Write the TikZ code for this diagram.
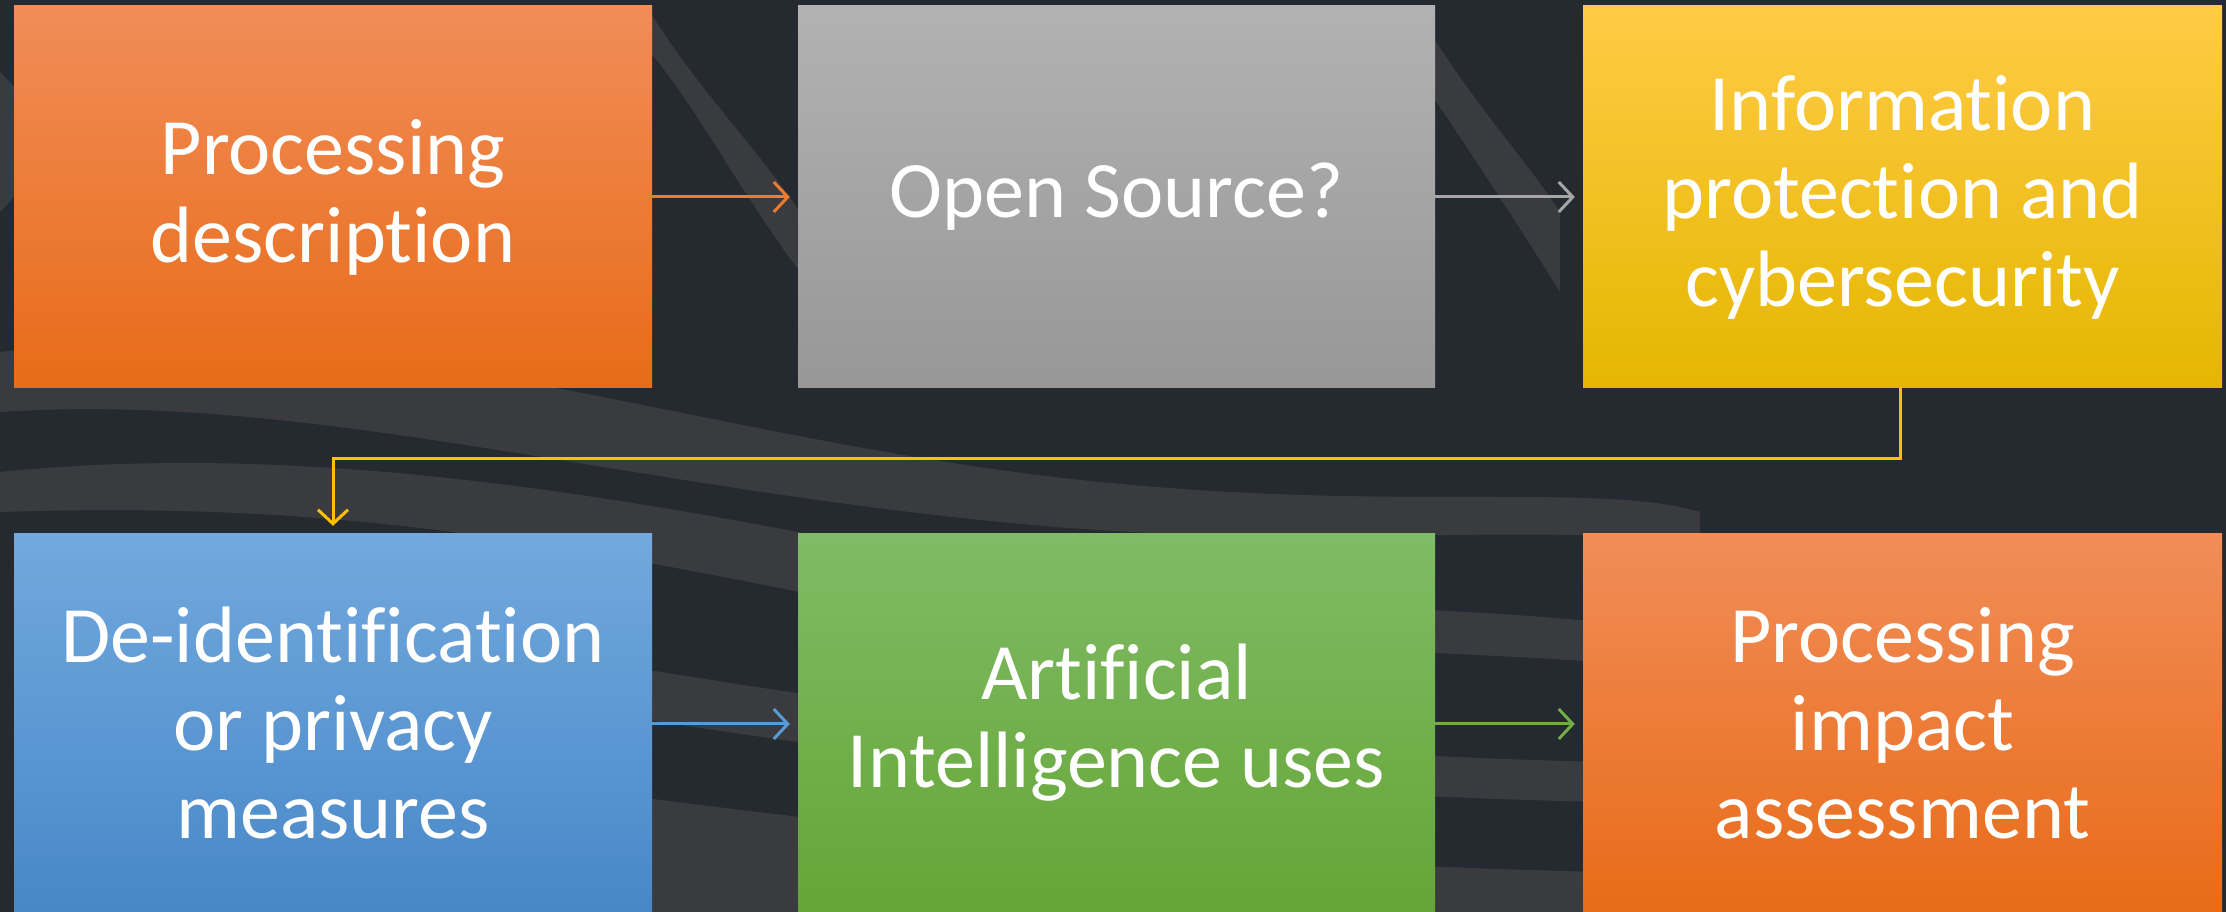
\documentclass[tikz,border=0pt]{standalone}
\usepackage{fontspec}
\setmainfont[Ligatures=NoCommon]{Carlito}
\usetikzlibrary{arrows.meta}
\definecolor{bgdark}{HTML}{252A31}
\definecolor{bgband}{HTML}{4A4A4A}
\definecolor{orT}{HTML}{F18D58}
\definecolor{orB}{HTML}{E86B18}
\definecolor{grT}{HTML}{B2B2B2}
\definecolor{grB}{HTML}{979797}
\definecolor{yeT}{HTML}{FFCB45}
\definecolor{yeB}{HTML}{E5B600}
\definecolor{blT}{HTML}{72A9DE}
\definecolor{blB}{HTML}{4787C8}
\definecolor{gnT}{HTML}{80BB65}
\definecolor{gnB}{HTML}{65A536}
\definecolor{arOr}{HTML}{F07A2C}
\definecolor{arGr}{HTML}{A6A6A6}
\definecolor{arYe}{HTML}{FFC000}
\definecolor{arBl}{HTML}{5B9BD5}
\definecolor{arGn}{HTML}{70AD47}
\tikzset{
  box/.style={minimum height=382pt, inner sep=0pt, align=center, text=white,
    font=\fontsize{80}{88}\selectfont, shading=axis, shading angle=0},
  boxlow/.style={box, minimum height=378pt},
  arr/.style={line width=3pt, -{Straight Barb[length=14pt,width=30pt,line width=3pt]}, shorten >=8pt},
  band/.style={fill=bgband, fill opacity=0.55}
}
\begin{document}
\begin{tikzpicture}[x=1pt,y=1pt]
\useasboundingbox (0,0) rectangle (2226,912);
\fill[bgdark] (0,0) rectangle (2226,912);
% background wave bands
\fill[band] (0,560) .. controls (400,600) and (700,470) .. (1100,430) .. controls (1400,400) and (1600,430) .. (1700,400) -- (1700,370) .. controls (1500,390) and (1300,360) .. (1000,390) .. controls (600,430) and (300,520) .. (0,500) -- cycle;
\fill[band] (0,440) .. controls (300,470) and (600,420) .. (900,360) .. controls (1200,300) and (1400,310) .. (1600,290) -- (1600,250) .. controls (1300,270) and (1100,260) .. (800,320) .. controls (500,380) and (300,410) .. (0,400) -- cycle;
\fill[band] (600,250) .. controls (900,200) and (1200,160) .. (1600,150) -- (1600,110) .. controls (1200,120) and (900,150) .. (600,200) -- cycle;
\fill[band] (600,120) .. controls (900,80) and (1200,50) .. (1600,40) -- (1600,0) -- (600,0) -- cycle;
\fill[band] (0,840) .. controls (40,800) and (60,760) .. (0,700) -- cycle;
\fill[band] (650,900) .. controls (700,820) and (760,760) .. (800,700) -- (800,640) .. controls (740,720) and (700,800) .. (650,860) -- cycle;
\fill[band] (1430,880) .. controls (1480,800) and (1520,760) .. (1560,700) -- (1560,620) .. controls (1510,700) and (1470,760) .. (1430,820) -- cycle;
% boxes
\node[box, minimum width=638pt, top color=orT, bottom color=orB] (b1) at (333,715) {Processing\\description};
\node[box, minimum width=637pt, top color=grT, bottom color=grB] (b2) at (1116.5,715) {Open Source?};
\node[box, minimum width=639pt, top color=yeT, bottom color=yeB] (b3) at (1902.5,715) {Information\\protection and\\cybersecurity};
\node[boxlow, minimum width=638pt, top color=blT, bottom color=blB] (b4) at (333,189) {De-identification\\or privacy\\measures};
\node[boxlow, minimum width=637pt, top color=gnT, bottom color=gnB] (b5) at (1116.5,189) {Artificial\\Intelligence uses};
\node[boxlow, minimum width=639pt, top color=orT, bottom color=orB] (b6) at (1902.5,189) {Processing\\impact\\assessment};
% connectors
\draw[arr, arOr] (b1.east) -- (b2.west);
\draw[arr, arGr] (b2.east) -- (b3.west);
\draw[arr, arBl] (b4.east |- 0,188) -- (b5.west |- 0,188);
\draw[arr, arGn] (b5.east |- 0,188) -- (b6.west |- 0,188);
\coordinate (turn) at (1100,453);
\draw[arr, arYe] ([xshift=-2pt]b3.south) |- (turn) -| (b4.north);
\end{tikzpicture}
\end{document}
